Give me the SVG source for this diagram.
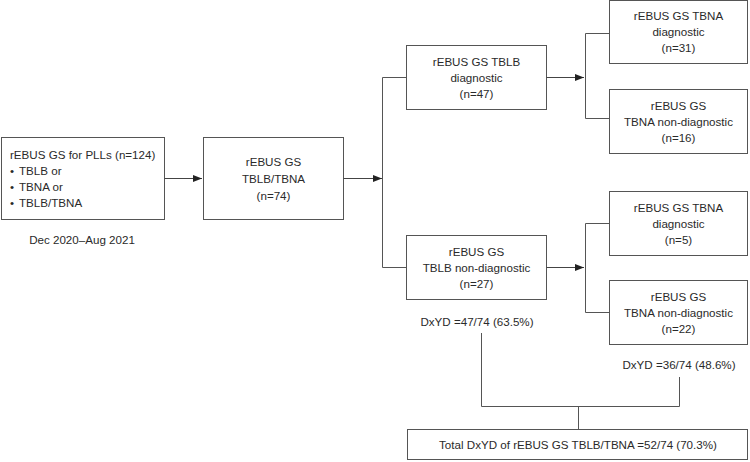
<svg xmlns="http://www.w3.org/2000/svg" width="750" height="462" viewBox="0 0 750 462">
<defs>
<marker id="ah" markerWidth="10" markerHeight="8" refX="9" refY="4" orient="auto" markerUnits="userSpaceOnUse">
<path d="M0,0.5 L9,4 L0,7.5 Z" fill="#222"/>
</marker>
<style>
.box{fill:#fff;stroke:#555;stroke-width:1}
.t{font-family:"Liberation Sans",Arial,sans-serif;font-size:11.6px;fill:#2a2a2a;text-anchor:middle}
.l{text-anchor:start}
.c{fill:none;stroke:#555;stroke-width:1}
.a{fill:none;stroke:#444;stroke-width:1;marker-end:url(#ah)}
</style>
</defs>
<rect width="750" height="462" fill="#fff"/>
<g id="n1">
<rect class="box" x="1.5" y="137.5" width="163" height="82"/>
<text class="t l" x="10" y="159">rEBUS GS for PLLs (n=124)</text>
<text class="t l" x="10" y="175">•<tspan x="19">TBLB or</tspan></text>
<text class="t l" x="10" y="191">•<tspan x="19">TBNA or</tspan></text>
<text class="t l" x="10" y="207">•<tspan x="19">TBLB/TBNA</tspan></text>
</g>
<g id="date"><text class="t" x="82" y="244">Dec 2020–Aug 2021</text></g>
<g id="n2">
<rect class="box" x="203.5" y="137.5" width="140" height="82"/>
<text class="t" x="273.5" y="166">rEBUS GS</text>
<text class="t" x="273.5" y="183">TBLB/TBNA</text>
<text class="t" x="273.5" y="200">(n=74)</text>
</g>
<g id="n3">
<rect class="box" x="406.5" y="45.5" width="140" height="64"/>
<text class="t" x="476.5" y="66">rEBUS GS TBLB</text>
<text class="t" x="476.5" y="82">diagnostic</text>
<text class="t" x="476.5" y="98">(n=47)</text>
</g>
<g id="n4">
<rect class="box" x="406.5" y="235.5" width="140" height="64"/>
<text class="t" x="476.5" y="256">rEBUS GS</text>
<text class="t" x="476.5" y="272">TBLB non-diagnostic</text>
<text class="t" x="476.5" y="288">(n=27)</text>
</g>
<g id="n5">
<rect class="box" x="609.5" y="0.5" width="138" height="63"/>
<text class="t" x="678.5" y="20">rEBUS GS TBNA</text>
<text class="t" x="678.5" y="36">diagnostic</text>
<text class="t" x="678.5" y="52">(n=31)</text>
</g>
<g id="n6">
<rect class="box" x="609.5" y="89.5" width="138" height="64"/>
<text class="t" x="678.5" y="110">rEBUS GS</text>
<text class="t" x="678.5" y="126">TBNA non-diagnostic</text>
<text class="t" x="678.5" y="142">(n=16)</text>
</g>
<g id="n7">
<rect class="box" x="609.5" y="191.5" width="138" height="64"/>
<text class="t" x="678.5" y="212">rEBUS GS TBNA</text>
<text class="t" x="678.5" y="228">diagnostic</text>
<text class="t" x="678.5" y="244">(n=5)</text>
</g>
<g id="n8">
<rect class="box" x="609.5" y="280.5" width="138" height="64"/>
<text class="t" x="678.5" y="301">rEBUS GS</text>
<text class="t" x="678.5" y="317">TBNA non-diagnostic</text>
<text class="t" x="678.5" y="333">(n=22)</text>
</g>
<g id="d1"><text class="t" x="477" y="326">DxYD =47/74 (63.5%)</text></g>
<g id="d2"><text class="t" x="679" y="369">DxYD =36/74 (48.6%)</text></g>
<g id="n9">
<rect class="box" x="407.5" y="429.5" width="340" height="30"/>
<text class="t" x="578" y="449">Total DxYD of rEBUS GS TBLB/TBNA =52/74 (70.3%)</text>
</g>
<g id="connectors">
<line class="a" x1="164.5" y1="178.5" x2="202" y2="178.5"/>
<line class="a" x1="343.5" y1="178.5" x2="382" y2="178.5"/>
<path class="c" d="M406.5,77.5 H382.5 V267.5 H406.5"/>
<line class="a" x1="546.5" y1="77.5" x2="584" y2="77.5"/>
<line class="a" x1="546.5" y1="267.5" x2="584" y2="267.5"/>
<path class="c" d="M609.5,33.5 H585.5 V118.5 H609.5"/>
<path class="c" d="M609.5,223.5 H585.5 V312.5 H609.5"/>
<path class="c" d="M481.5,333 V406.5 H679.5 V377"/>
<line class="c" x1="578.5" y1="406.5" x2="578.5" y2="429.5"/>
</g>
</svg>
